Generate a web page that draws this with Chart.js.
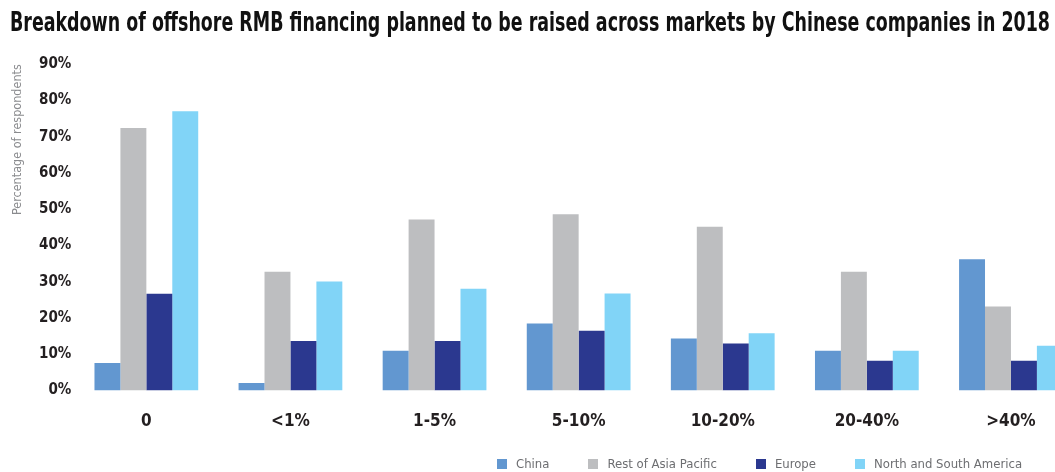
<!DOCTYPE html>
<html>
<head>
<meta charset="utf-8">
<script src="https://cdn.jsdelivr.net/npm/chart.js@4/dist/chart.umd.min.js"></script>
<style>
  body { margin: 0; background: #fff; }
  #wrap { position: relative; width: 1055px; height: 472px; overflow: hidden; }
  #legend { position: absolute; left: 497px; top: 456px; display: flex; white-space: nowrap;
    font-family: 'Liberation Sans Narrow', 'DejaVu Sans Condensed', sans-serif; font-size: 13px; color: #6d6e71; }
  #legend span.item { display: flex; align-items: center; margin-right: 39px; }
  #legend span.box { width: 10px; height: 10px; margin-right: 9px; }
</style>
</head>
<body>
<div id="wrap">
  <canvas id="chart" width="1090" height="472"></canvas>
  <div id="legend"></div>
</div>
<script>
const categories = ['0', '<1%', '1-5%', '5-10%', '10-20%', '20-40%', '>40%'];
const china = [7.6, 2.1, 11.0, 18.5, 14.4, 11.0, 36.2];
const restOfAsia = [72.4, 32.8, 47.2, 48.6, 45.2, 32.8, 23.2];
const europe = [26.7, 13.7, 13.7, 16.5, 13.0, 8.2, 8.2];
const americas = [77.0, 30.1, 28.1, 26.8, 15.8, 11.0, 12.4];
const yTicks = [0, 10, 20, 30, 40, 50, 60, 70, 80, 90];

const narrow = "'Liberation Sans Narrow', 'DejaVu Sans Condensed', sans-serif";

// canvas is wider than the page (last bar gets cut), so squeeze the title into the visible part
const titleWidth = {
  id: 'titleWidth',
  afterLayout(chart) { chart.titleBlock.right = 1050; }
};

let chart = new Chart(document.getElementById('chart').getContext('2d'), {
  type: 'bar',
  data: {
    labels: categories,
    datasets: [
      { label: 'China', data: china, backgroundColor: '#6297d0' },
      { label: 'Rest of Asia Pacific', data: restOfAsia, backgroundColor: '#bdbec0' },
      { label: 'Europe', data: europe, backgroundColor: '#2b388f' },
      { label: 'North and South America', data: americas, backgroundColor: '#81d4f7' }
    ]
  },
  plugins: [titleWidth],
  options: {
    responsive: false,
    animation: false,
    devicePixelRatio: 1,
    layout: { padding: { left: 10, right: 7, bottom: 19 } },
    datasets: { bar: { barPercentage: 1, categoryPercentage: 0.72 } },
    plugins: {
      legend: { display: false },
      tooltip: { enabled: false },
      title: {
        display: true,
        text: 'Breakdown of offshore RMB financing planned to be raised across markets by Chinese companies in 2018',
        align: 'start',
        color: '#111',
        font: { family: narrow, size: 26, weight: 'bold' },
        padding: { top: 9, bottom: 24 }
      }
    },
    scales: {
      x: {
        grid: { display: false, drawTicks: false },
        border: { display: false },
        ticks: { padding: 21, color: '#231f20', font: { family: narrow, size: 17, weight: 'bold' } }
      },
      y: {
        min: 0,
        max: 90,
        afterBuildTicks: axis => { axis.ticks = yTicks.map(v => ({ value: v })); },
        grid: { display: false, drawTicks: false },
        border: { display: false },
        ticks: { padding: 3, color: '#231f20', font: { family: narrow, size: 15, weight: 'bold' },
          callback: v => v + '%' },
        title: {
          display: true,
          text: 'Percentage of respondents',
          align: 'end',
          color: '#8a8b8e',
          font: { family: narrow, size: 12.5 },
          padding: { top: 0, bottom: 11 }
        }
      }
    }
  }
});

// html legend
let legend = document.getElementById('legend');
chart.data.datasets.forEach(ds => {
  legend.innerHTML += `<span class="item"><span class="box" style="background:${ds.backgroundColor}"></span>${ds.label}</span>`;
});
</script>
</body>
</html>
